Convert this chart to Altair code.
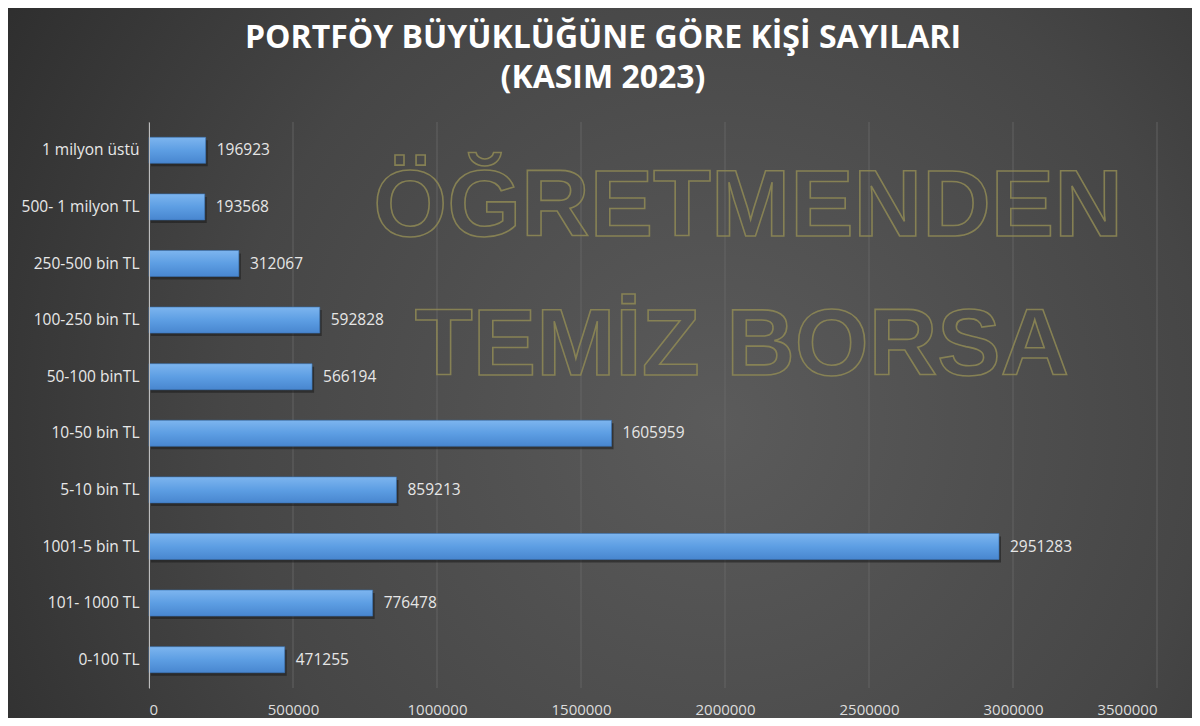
import altair as alt
import pandas as pd

categories = ["1 milyon üstü", "500- 1 milyon TL", "250-500 bin TL", "100-250 bin TL",
              "50-100 binTL", "10-50 bin TL", "5-10 bin TL", "1001-5 bin TL",
              "101- 1000 TL", "0-100 TL"]
values = [196923, 193568, 312067, 592828, 566194, 1605959, 859213, 2951283, 776478, 471255]
grid_values = [0, 500000, 1000000, 1500000, 2000000, 2500000, 3000000, 3500000]
title_lines = ["PORTFÖY BÜYÜKLÜĞÜNE GÖRE KİŞİ SAYILARI", "(KASIM 2023)"]
watermark_lines = ["ÖĞRETMENDEN", "TEMİZ BORSA"]

df = pd.DataFrame({"cat": categories, "val": values})
grid_df = pd.DataFrame({"g": grid_values})

W, H = 1008, 566
PAD_L, PAD_T = 141, 114
TOTAL_W, TOTAL_H = 1184, 710

x_scale = alt.Scale(domain=[0, 3500000], nice=False)
y_enc = alt.Y("cat:N", sort=categories,
              scale=alt.Scale(paddingInner=0.54, paddingOuter=0.27),
              axis=alt.Axis(title=None, labelColor="#e8e8e8", labelFontSize=15.5,
                            labelFont="Open Sans", labelPadding=10, ticks=False,
                            domain=True, domainColor="#bdbdbd", domainWidth=1, grid=False,
                            zindex=1))

bg = alt.Chart(alt.Data(values=[{}])).mark_rect(
    color={"gradient": "radial", "x1": 0.6, "y1": 0.55, "x2": 0.6, "y2": 0.55,
           "r1": 0, "r2": 0.75,
           "stops": [{"offset": 0, "color": "#5b5b5b"},
                     {"offset": 0.55, "color": "#464646"},
                     {"offset": 1, "color": "#2a2a2a"}]}
).encode(
    x=alt.value(-PAD_L), x2=alt.value(TOTAL_W - PAD_L),
    y=alt.value(-PAD_T), y2=alt.value(TOTAL_H - PAD_T)
)

grid = alt.Chart(grid_df).mark_rule(color="#6a6a6a", strokeWidth=1, opacity=0.8).encode(
    x=alt.X("g:Q", scale=x_scale,
            axis=alt.Axis(title=None, values=grid_values, format="d", labelColor="#dcdcdc",
                          labelFontSize=15, labelFont="Open Sans", labelPadding=14,
                          ticks=False, domain=False, grid=False, zindex=1)),
    y=alt.value(0), y2=alt.value(H)
)

shadow = alt.Chart(df).mark_bar(color="#1a1a1a", opacity=0.55, xOffset=2, yOffset=3,
                                cornerRadius=0).encode(
    x=alt.X("val:Q", scale=x_scale), y=y_enc
)

bars = alt.Chart(df).mark_bar(
    color={"gradient": "linear", "x1": 0, "y1": 0, "x2": 0, "y2": 1,
           "stops": [{"offset": 0, "color": "#7db5ef"},
                     {"offset": 0.5, "color": "#5d9ee3"},
                     {"offset": 1, "color": "#4886cf"}]},
    stroke="#3b74b5", strokeWidth=0.6
).encode(
    x=alt.X("val:Q", scale=x_scale), y=y_enc
)

labels = alt.Chart(df).mark_text(align="left", baseline="middle", dx=11, fontSize=15.5,
                                 font="Open Sans", color="#e6e6e6").encode(
    x=alt.X("val:Q", scale=x_scale), y=y_enc, text=alt.Text("val:Q", format="d")
)

wm_style = dict(font="Liberation Sans", fontWeight="bold", fontSize=95,
                fill="transparent", stroke="#8f8a55", strokeWidth=1.6, strokeOpacity=0.85,
                align="center", baseline="alphabetic")
wm1 = alt.Chart(alt.Data(values=[{"t": watermark_lines[0]}])).mark_text(**wm_style).encode(
    text="t:N", x=alt.value(599), y=alt.value(114))
wm2 = alt.Chart(alt.Data(values=[{"t": watermark_lines[1]}])).mark_text(**wm_style).encode(
    text="t:N", x=alt.value(593), y=alt.value(253))

title_style = dict(font="Open Sans", fontWeight="bold", fontSize=32, color="#ffffff",
                   align="center", baseline="middle")
t1 = alt.Chart(alt.Data(values=[{"t": title_lines[0]}])).mark_text(**title_style).encode(
    text="t:N", x=alt.value(454), y=alt.value(-84))
t2 = alt.Chart(alt.Data(values=[{"t": title_lines[1]}])).mark_text(**title_style).encode(
    text="t:N", x=alt.value(454), y=alt.value(-44))

chart = alt.layer(bg, grid, shadow, bars, labels, wm1, wm2, t1, t2).properties(
    width=W, height=H,
    padding={"left": PAD_L, "top": PAD_T, "right": TOTAL_W - PAD_L - W,
             "bottom": TOTAL_H - PAD_T - H},
    autosize=alt.AutoSizeParams(type="none"),
    background="#3a3a3a"
).configure_view(stroke=None)

chart.save("out.html", embed_options={"renderer": "svg", "actions": False})
